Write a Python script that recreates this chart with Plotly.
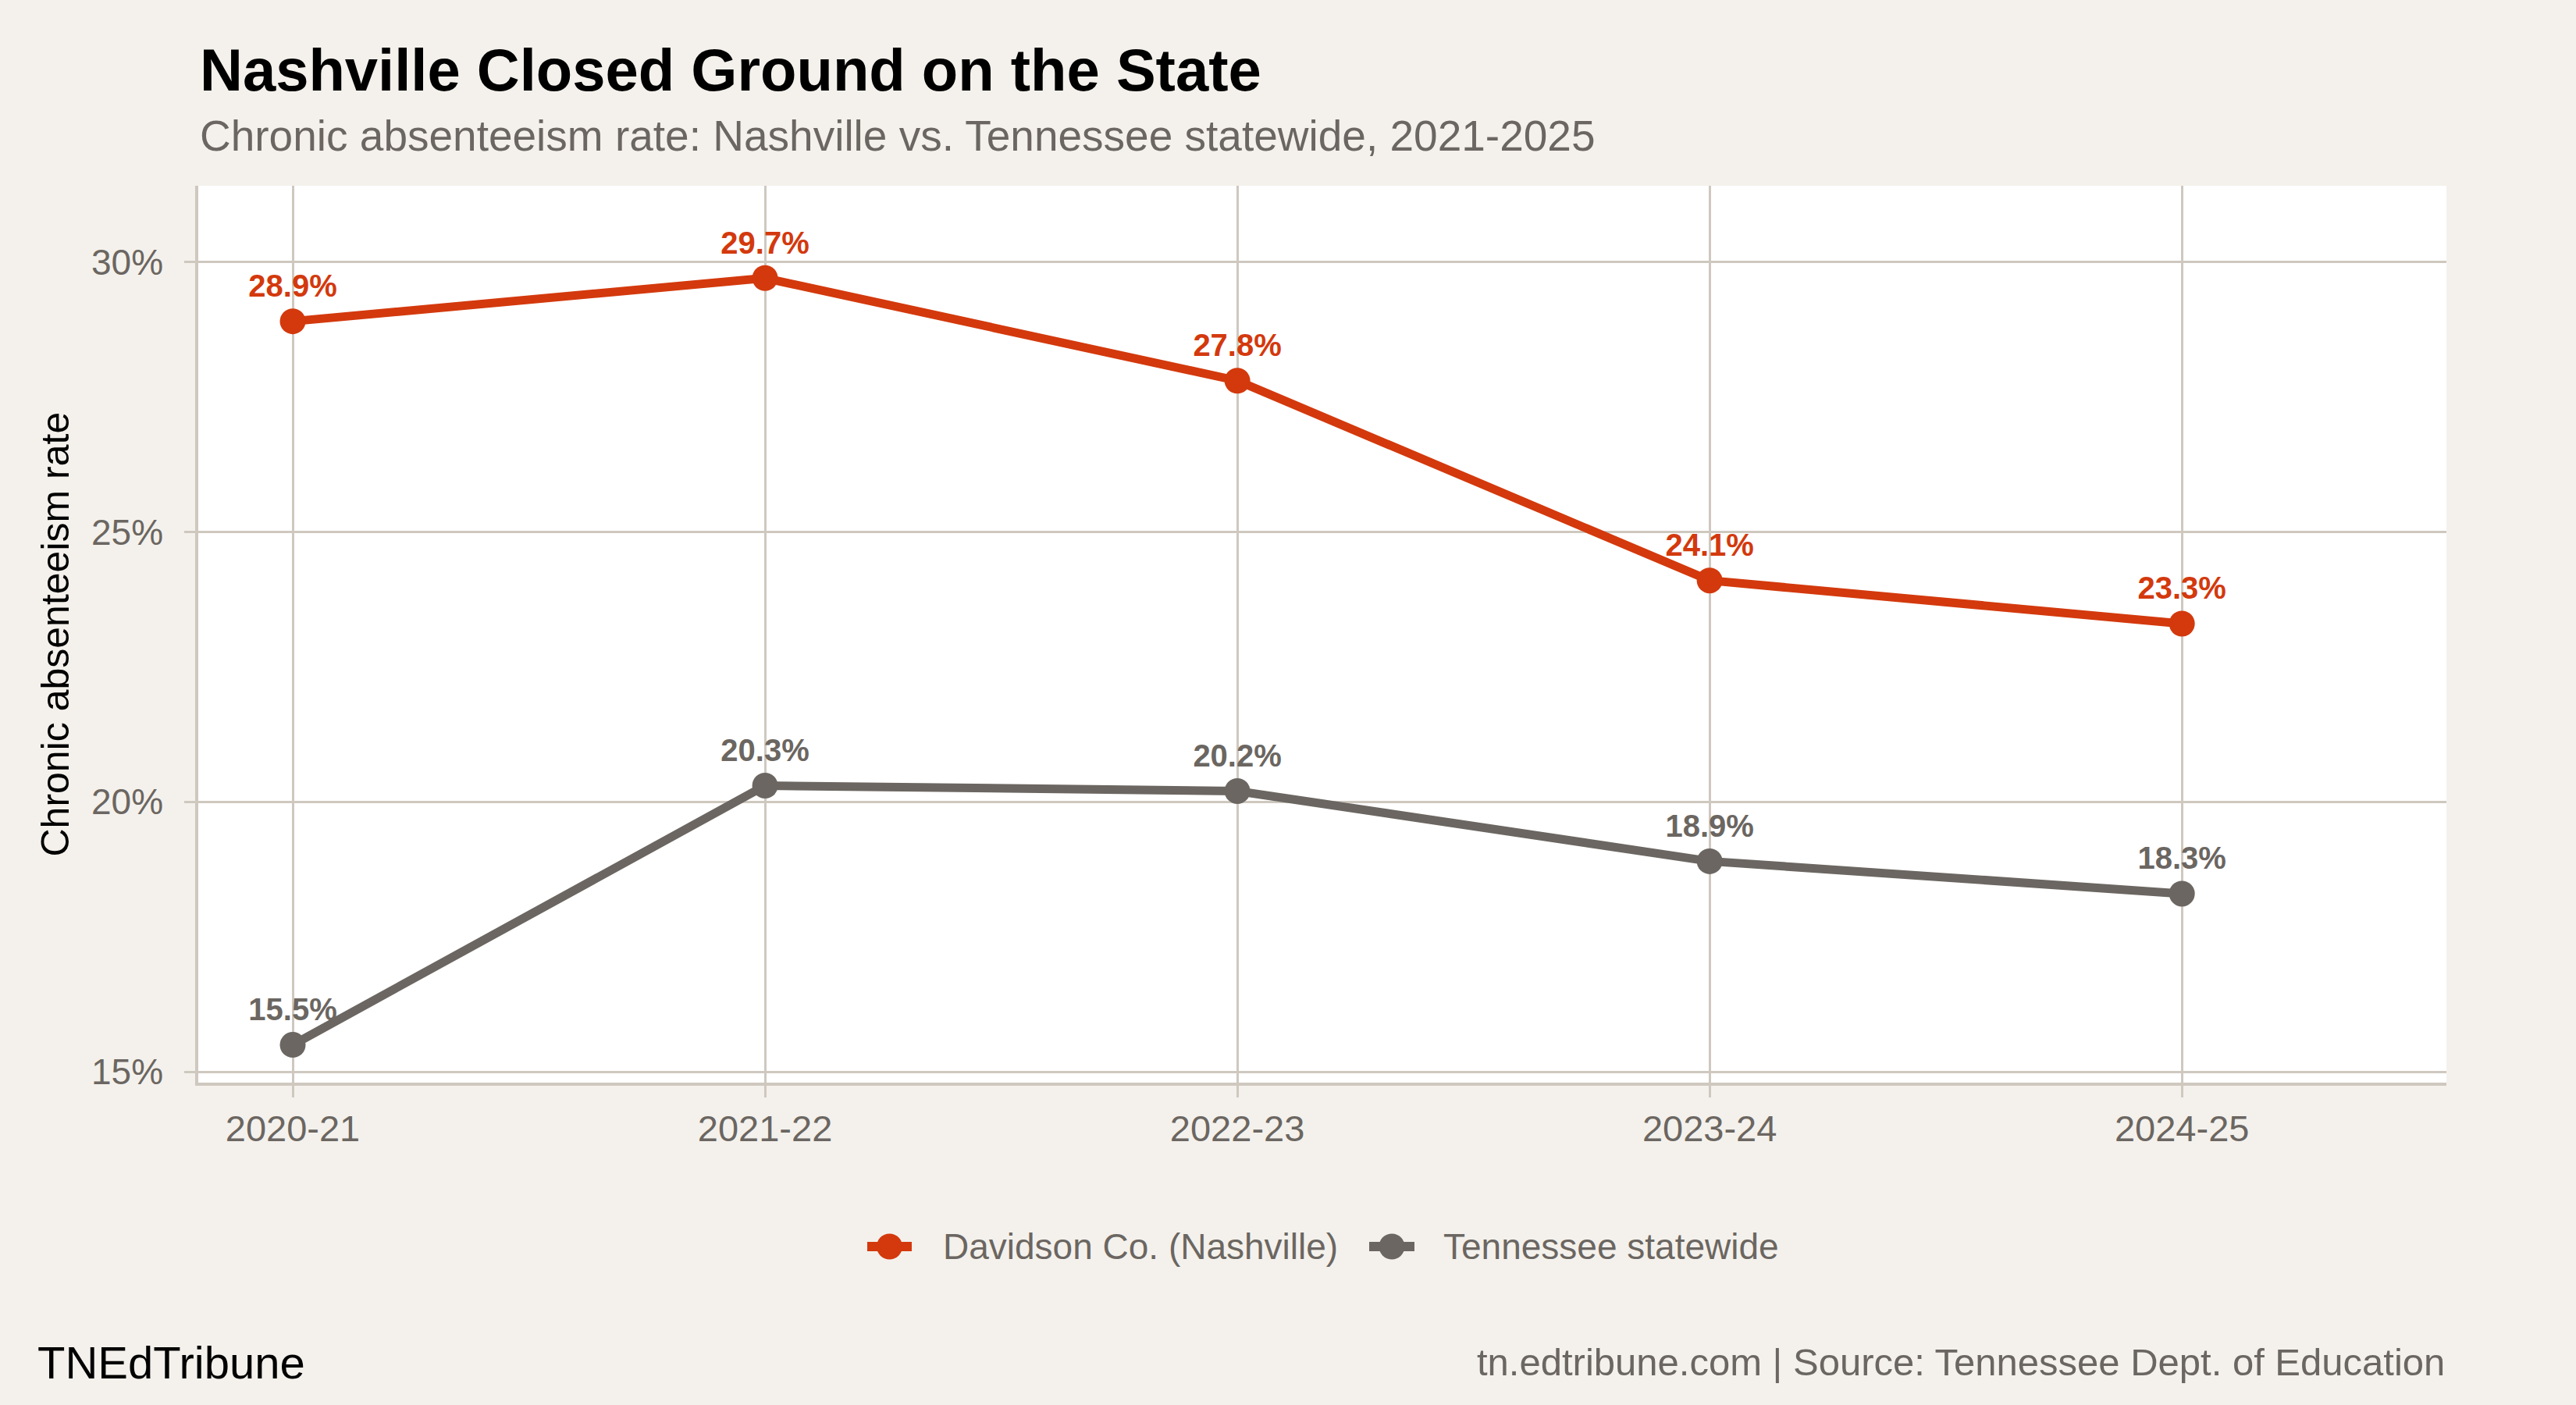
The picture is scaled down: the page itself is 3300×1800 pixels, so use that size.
import plotly.graph_objects as go

# ---- data ----
years = ["2020-21", "2021-22", "2022-23", "2023-24", "2024-25"]
nashville = [28.9, 29.7, 27.8, 24.1, 23.3]
statewide = [15.5, 20.3, 20.2, 18.9, 18.3]
series_names = ["Davidson Co. (Nashville)", "Tennessee statewide"]
y_ticks = [15, 20, 25, 30]
y_tick_labels = ["15%", "20%", "25%", "30%"]

# ---- style ----
RED = "#D3390D"
GRAY = "#6B6661"
BG = "#F4F1EC"
GRID = "#CEC8BF"
FONT = "Liberation Sans, Arial, Helvetica, sans-serif"
colors = [RED, GRAY]

W, H = 3300, 1800
L, R, T, B = 254, 166, 238, 413
plot_w = W - L - R
plot_h = H - T - B


def px_x(x):
    return (x - L) / plot_w


def px_y(y):
    return (H - B - y) / plot_h


fig = go.Figure()
for name, vals, col in zip(series_names, [nashville, statewide], colors):
    fig.add_trace(go.Scatter(
        x=years, y=vals, name=name, mode="lines+markers+text",
        line=dict(color=col, width=11),
        marker=dict(color=col, size=33),
        text=[f"{v:.1f}%" for v in vals],
        textposition="top center",
        textfont=dict(family=FONT, size=40, color=col, weight="bold"),
        cliponaxis=False,
        showlegend=False,
    ))

fig.update_layout(
    width=W, height=H,
    margin=dict(l=L, r=R, t=T, b=B),
    paper_bgcolor=BG, plot_bgcolor="white",
    font=dict(family=FONT, color=GRAY),
    showlegend=False,
    xaxis=dict(type="category", range=[-0.2, 4.56], showgrid=True, gridcolor=GRID, gridwidth=2.5,
               showline=True, linecolor=GRID, linewidth=3.5, ticks="outside", ticklen=15,
               tickcolor=GRID, tickwidth=2.5, tickfont=dict(size=47, color=GRAY), zeroline=False),
    yaxis=dict(range=[14.80, 31.41], tickmode="array", tickvals=y_ticks, ticktext=y_tick_labels,
               showgrid=True, gridcolor=GRID, gridwidth=2.5, showline=True, linecolor=GRID,
               linewidth=3.5, ticks="outside", ticklen=14, tickcolor=GRID, tickwidth=2.5,
               ticklabelstandoff=18,
               tickfont=dict(size=46, color=GRAY), zeroline=False),
)

annots = [
    dict(text="<b>Nashville Closed Ground on the State</b>", x=0, xanchor="left",
         y=px_y(90), yanchor="middle", font=dict(size=76, color="black")),
    dict(text="Chronic absenteeism rate: Nashville vs. Tennessee statewide, 2021-2025", x=0,
         xanchor="left", y=px_y(174), yanchor="middle", font=dict(size=55, color=GRAY)),
    dict(text="Chronic absenteeism rate", x=px_x(70), xanchor="center", y=0.5, yanchor="middle",
         textangle=-90, font=dict(size=50, color="black")),
    dict(text="TNEdTribune", x=px_x(46), xanchor="left", y=px_y(1745), yanchor="middle",
         font=dict(size=58, color="black")),
    dict(text="tn.edtribune.com | Source: Tennessee Dept. of Education", x=1, xanchor="right",
         y=px_y(1745), yanchor="middle", font=dict(size=49, color=GRAY)),
]

# ---- manual legend (large key symbols) ----
leg_y = 1597
leg_items = [(1111, 1168, 1208), (1754, 1812, 1849)]
for (x0, x1, tx), name, col in zip(leg_items, series_names, colors):
    cx = (x0 + x1) / 2
    fig.add_shape(type="line", xref="paper", yref="paper", x0=px_x(x0), x1=px_x(x1),
                  y0=px_y(leg_y), y1=px_y(leg_y), line=dict(color=col, width=12))
    fig.add_shape(type="circle", xref="paper", yref="paper", x0=px_x(cx - 16.5), x1=px_x(cx + 16.5),
                  y0=px_y(leg_y + 16.5), y1=px_y(leg_y - 16.5), fillcolor=col, line=dict(width=0))
    annots.append(dict(text=name, x=px_x(tx - 2), xanchor="left", y=px_y(leg_y), yanchor="middle",
                       font=dict(size=46, color=GRAY)))

for a in annots:
    fig.add_annotation(xref="paper", yref="paper", showarrow=False, **a)

fig.write_html("out.html")
